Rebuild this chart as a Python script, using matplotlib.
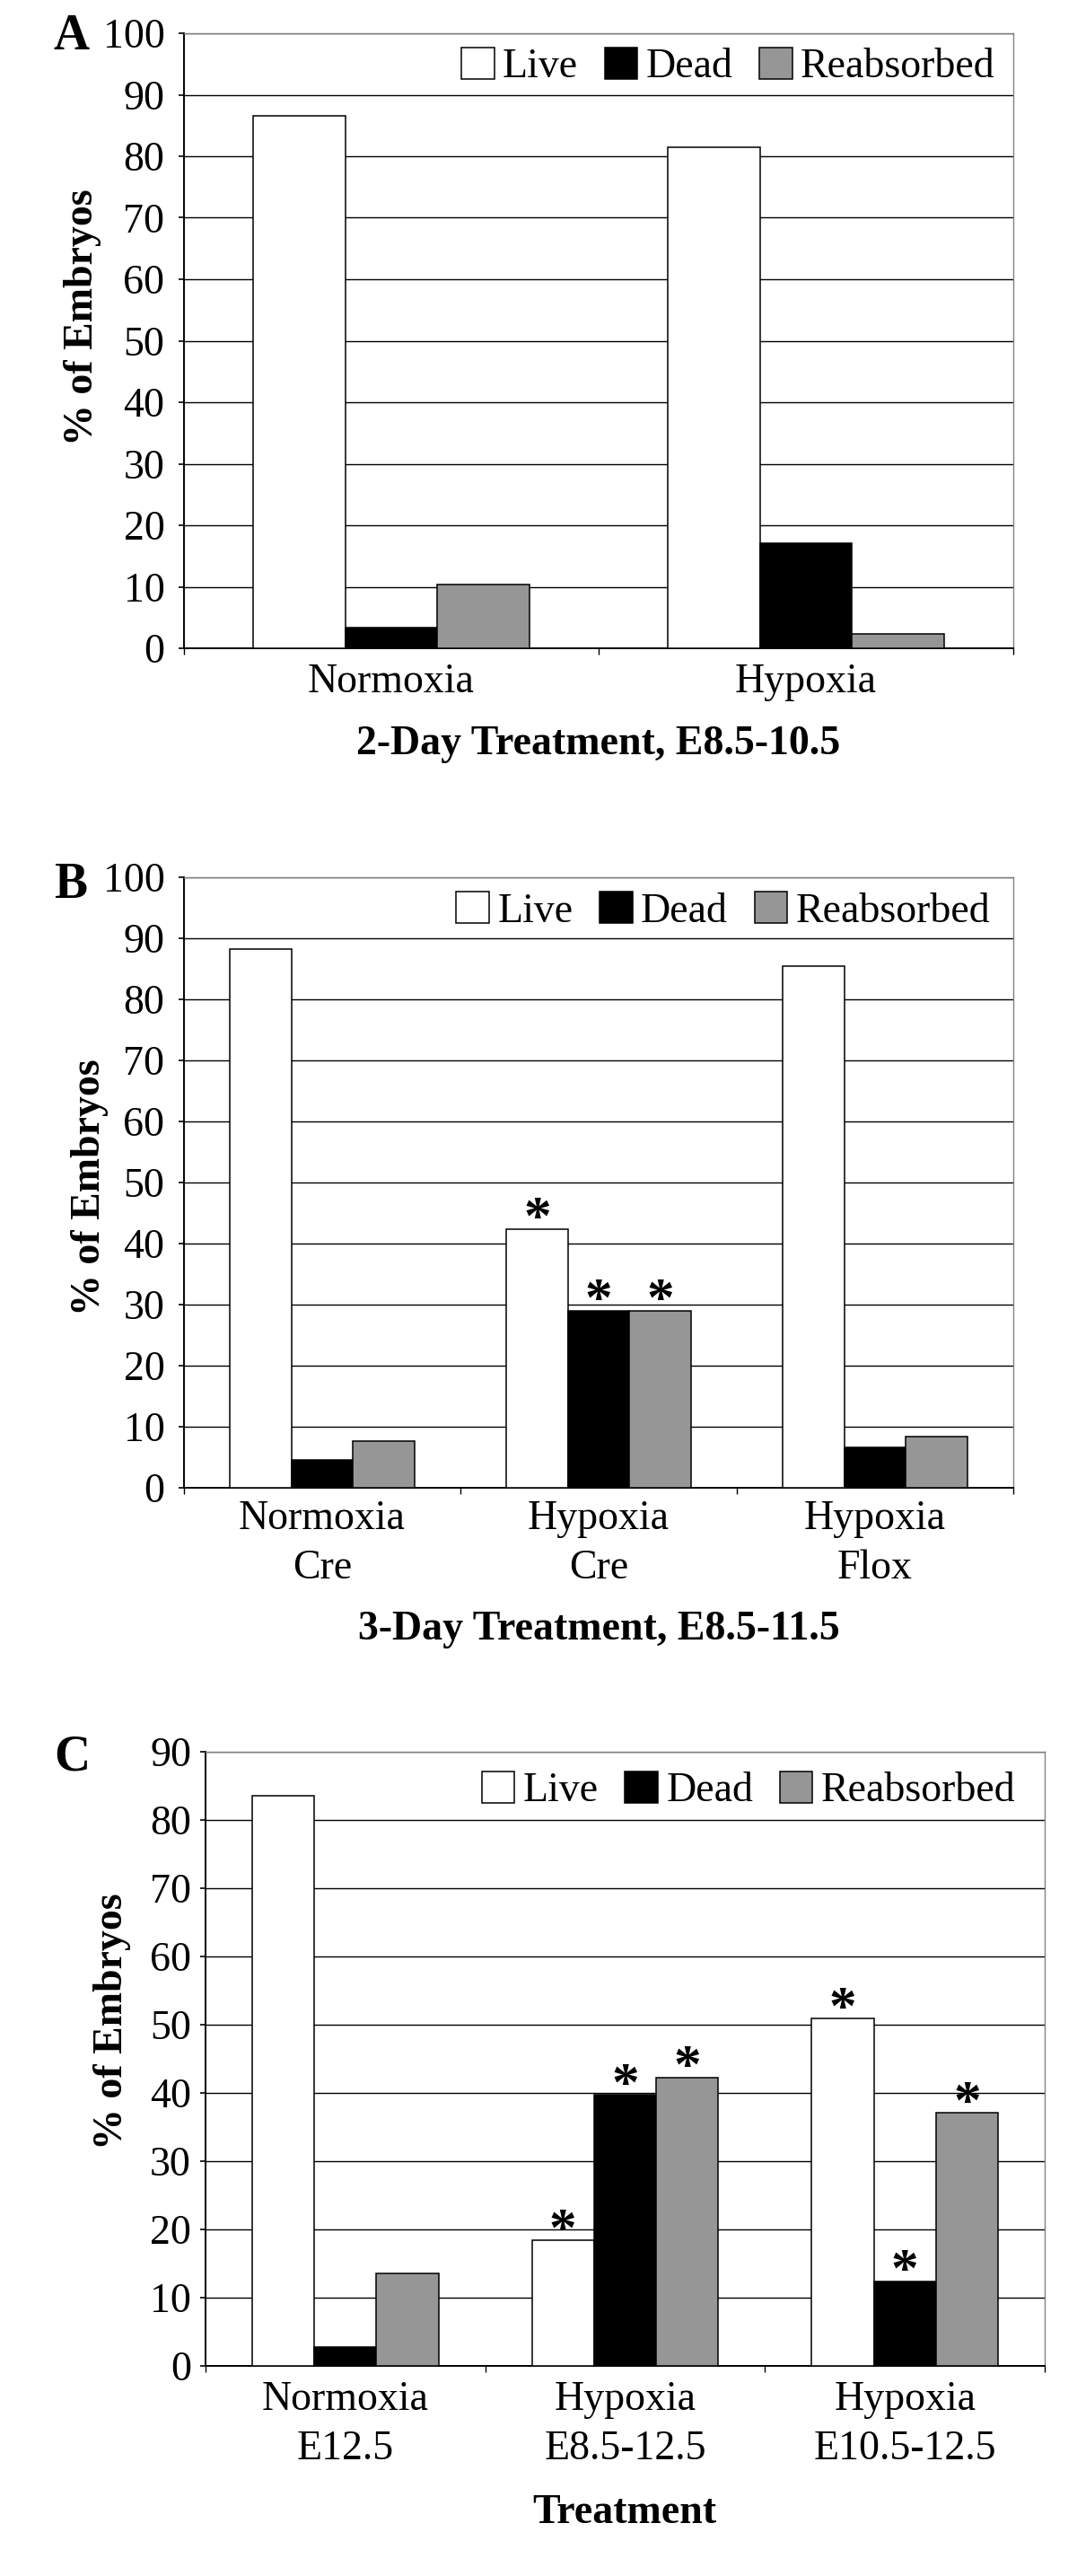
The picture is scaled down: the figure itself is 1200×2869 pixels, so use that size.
import matplotlib
matplotlib.use("Agg")
import matplotlib.pyplot as plt
from matplotlib.patches import Patch
import numpy as np

plt.rcParams['font.family'] = ['Liberation Serif', 'DejaVu Serif']

# ---------------- data ----------------
series_names = ['Live', 'Dead', 'Reabsorbed']
series_colors = ['white', 'black', '#969696']

cats_A = ['Normoxia', 'Hypoxia']
live_A = [86.6, 81.5]
dead_A = [3.4, 17.1]
reab_A = [10.3, 2.3]
star_A = [[False, False], [False, False], [False, False]]

cats_B = ['Normoxia\nCre', 'Hypoxia\nCre', 'Hypoxia\nFlox']
live_B = [88.2, 42.4, 85.5]
dead_B = [4.6, 29.0, 6.6]
reab_B = [7.6, 29.0, 8.4]
star_B = [[False, True, False], [False, True, False], [False, True, False]]

cats_C = ['Normoxia\nE12.5', 'Hypoxia\nE8.5-12.5', 'Hypoxia\nE10.5-12.5']
live_C = [83.6, 18.4, 50.9]
dead_C = [2.7, 39.7, 12.4]
reab_C = [13.6, 42.3, 37.1]
star_C = [[False, True, True], [False, True, True], [False, True, True]]

ymax_A, ymax_B, ymax_C = 100, 100, 90
xlabel_A = '2-Day Treatment, E8.5-10.5'
xlabel_B = '3-Day Treatment, E8.5-11.5'
xlabel_C = 'Treatment'
ylabel = '% of Embryos'

# ---------------- layout ----------------
W, H = 1200, 2869
fig = plt.figure(figsize=(W / 100, H / 100), dpi=100)
FS = 33


def rect(l, r, t, b):
    return [l / W, 1 - b / H, (r - l) / W, (b - t) / H]


def panel(box, cats, data, stars, ymax, letter, letter_xy, xlabel, xlabel_xy,
          ylabel_xy, leg_anchor, ypad, xpad):
    ax = fig.add_axes(rect(*box))
    n = len(cats)
    x = np.arange(n)
    w = 2 / 9
    for i, (vals, col) in enumerate(zip(data, series_colors)):
        ax.bar(x + (i - 1) * w, vals, width=w, color=col, edgecolor='black',
               linewidth=1.1, zorder=3, label=series_names[i])
        for xi, v, s in zip(x, vals, stars[i]):
            if s:
                ax.annotate('*', (xi + (i - 1) * w, v), xytext=(0, -4),
                            textcoords='offset points', ha='center',
                            va='baseline', fontsize=44, fontweight='bold',
                            zorder=4)
    ax.set_xlim(-0.5, n - 0.5)
    ax.set_ylim(0, ymax)
    ax.set_yticks(np.arange(0, ymax + 1, 10))
    ax.set_xticks(x)
    ax.set_xticklabels(cats, fontsize=FS, linespacing=1.38)
    ax.set_xticks(np.arange(n + 1) - 0.5, minor=True)
    ax.tick_params(axis='x', which='major', length=0, pad=xpad)
    ax.tick_params(axis='x', which='minor', length=5, width=1.0,
                   direction='out', color='black')
    ax.tick_params(axis='y', which='major', length=4.5, width=1.2,
                   direction='out', labelsize=FS, pad=ypad)
    ax.yaxis.grid(True, color='black', linewidth=1.0, zorder=0)
    ax.set_axisbelow(True)
    for s in ['left', 'bottom']:
        ax.spines[s].set_color('black')
        ax.spines[s].set_linewidth(1.4)
    for s in ['top', 'right']:
        ax.spines[s].set_color('#808080')
        ax.spines[s].set_linewidth(1.0)
    handles = [Patch(facecolor=c, edgecolor='black', linewidth=1.1)
               for c in series_colors]
    ax.legend(handles, series_names, loc='upper right',
              bbox_to_anchor=leg_anchor, ncol=3, frameon=False, fontsize=FS,
              handlelength=0.8, handleheight=0.8, handletextpad=0.2,
              columnspacing=0.65, borderpad=0, borderaxespad=0)
    fig.text(letter_xy[0] / W, 1 - letter_xy[1] / H, letter, fontsize=40,
             fontweight='bold', ha='center', va='center')
    fig.text(xlabel_xy[0] / W, 1 - xlabel_xy[1] / H, xlabel, fontsize=FS,
             fontweight='bold', ha='center', va='center')
    fig.text(ylabel_xy[0] / W, 1 - ylabel_xy[1] / H, ylabel, fontsize=FS,
             fontweight='bold', ha='center', va='center', rotation=90)
    return ax


panel((205, 1129, 37, 722), cats_A, [live_A, dead_A, reab_A], star_A, ymax_A,
      'A', (80, 41), xlabel_A, (667, 829), (92, 353), (0.978, 0.977), 11, 12)
panel((205, 1129, 977, 1657), cats_B, [live_B, dead_B, reab_B], star_B, ymax_B,
      'B', (79, 986), xlabel_B, (667, 1815), (100, 1322), (0.972, 0.976), 11, 10)
panel((229, 1164, 1951, 2635), cats_C, [live_C, dead_C, reab_C], star_C, ymax_C,
      'C', (80, 1957), xlabel_C, (696, 2799), (125, 2251), (0.965, 0.968), 7, 12)

fig.savefig('out.png', dpi=100, facecolor='white')
